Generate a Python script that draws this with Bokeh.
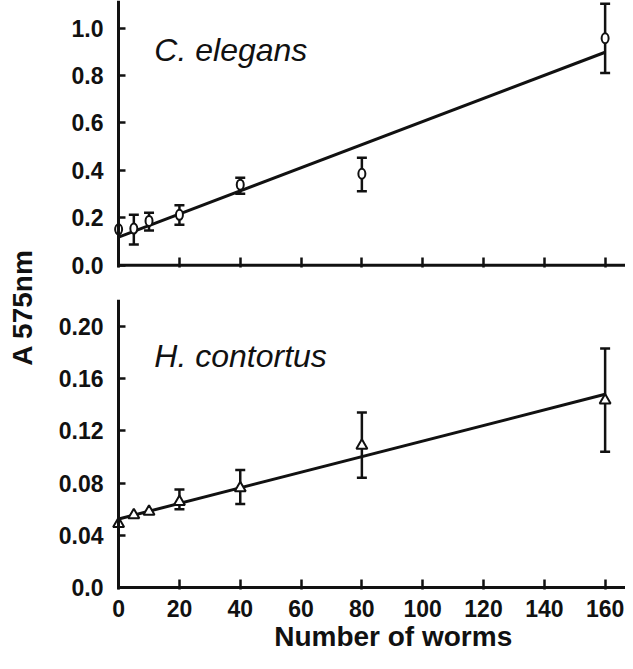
import math
from bokeh.plotting import figure
from bokeh.models import (Range1d, FixedTicker, Whisker, TeeHead, ColumnDataSource,
                          Label, Arrow, LinearAxis)
from bokeh.layouts import row, column
from bokeh.embed import file_html
from bokeh.resources import INLINE
from bokeh.core.properties import value

# ---------------- data ----------------
worms = [0, 5, 10, 20, 40, 80, 160]

ce_mean = [0.152, 0.155, 0.187, 0.213, 0.340, 0.386, 0.957]
ce_lower = [None, 0.088, 0.147, 0.171, 0.302, 0.312, 0.810]
ce_upper = [None, 0.213, 0.222, 0.253, 0.369, 0.453, 1.102]
ce_fit_x = [0, 160]
ce_fit_y = [0.119, 0.898]

hc_mean = [0.0488, 0.0555, 0.0582, 0.0657, 0.0762, 0.1088, 0.1433]
hc_lower = [None, None, None, 0.060, 0.064, 0.084, 0.104]
hc_upper = [None, None, None, 0.075, 0.090, 0.134, 0.183]
hc_fit_x = [0, 160]
hc_fit_y = [0.0525, 0.148]

x_ticks = [0, 20, 40, 60, 80, 100, 120, 140, 160]
ce_ticks = [0.0, 0.2, 0.4, 0.6, 0.8, 1.0]
ce_tick_labels = ["0.0", "0.2", "0.4", "0.6", "0.8", "1.0"]
hc_ticks = [0.0, 0.04, 0.08, 0.12, 0.16, 0.20]
hc_tick_labels = ["0.0", "0.04", "0.08", "0.12", "0.16", "0.20"]

FONT = "Liberation Sans"
INK = "#111111"
X_START, X_END = -3, 166.7
PANEL_W = 585


def make_panel(height, y_start, y_end, mb_bottom, yticks, ylabels, show_xlabels):
    p = figure(width=PANEL_W, height=height, title=None,
               x_range=Range1d(X_START, X_END), y_range=Range1d(y_start, y_end),
               output_backend="svg", toolbar_location=None,
               min_border_left=69, min_border_right=0,
               min_border_top=0, min_border_bottom=mb_bottom)
    p.outline_line_color = None
    p.grid.visible = False
    p.background_fill_color = "white"

    # tick labels on the frame edge
    ya = p.yaxis[0]
    ya.ticker = FixedTicker(ticks=yticks)
    ya.major_label_overrides = dict(zip(yticks, ylabels))
    ya.major_tick_line_color = None
    ya.minor_tick_line_color = None
    ya.axis_line_color = None
    ya.major_tick_out = 0
    ya.major_label_standoff = 6
    ya.major_label_text_font = FONT
    ya.major_label_text_font_style = "bold"
    ya.major_label_text_font_size = "23px"
    ya.major_label_text_color = INK

    # axis line and inward ticks at x = 0
    ya2 = LinearAxis(fixed_location=0, ticker=FixedTicker(ticks=yticks),
                     major_tick_in=7, major_tick_out=0, minor_tick_line_color=None,
                     major_tick_line_width=2.5, major_tick_line_color=INK,
                     axis_line_width=3, axis_line_color=INK,
                     major_label_text_font_size="0px", major_label_standoff=0)
    p.add_layout(ya2, "left")

    xa = p.xaxis[0]
    xa.ticker = FixedTicker(ticks=x_ticks)
    xa.major_tick_in = 10
    xa.major_tick_out = 0
    xa.minor_tick_line_color = None
    xa.major_tick_line_width = 2.5
    xa.major_tick_line_color = INK
    xa.axis_line_color = None
    xa.major_label_text_font = FONT
    xa.major_label_text_font_style = "bold"
    xa.major_label_text_color = INK
    if show_xlabels:
        xa.major_label_text_font_size = "23px"
        xa.major_label_standoff = 10
    else:
        xa.major_label_text_font_size = "0px"
        xa.major_label_standoff = 0

    p.add_layout(Arrow(end=None, x_start=0, y_start=0, x_end=X_END, y_end=0,
                       line_width=3, line_color=INK))
    return p


def add_series(p, means, lower, upper, fit_x, fit_y, marker):
    idx = [i for i in range(len(worms)) if lower[i] is not None]
    esrc = ColumnDataSource(dict(x=[worms[i] for i in idx],
                                 lower=[lower[i] for i in idx],
                                 upper=[upper[i] for i in idx]))
    p.add_layout(Whisker(base="x", lower="lower", upper="upper", source=esrc,
                         dimension="height", line_width=2.5, line_color=INK,
                         upper_head=TeeHead(size=10, line_width=2.5, line_color=INK),
                         lower_head=TeeHead(size=10, line_width=2.5, line_color=INK)))
    p.line(fit_x, fit_y, line_width=3, line_color=INK)
    src = ColumnDataSource(dict(x=worms, y=means))
    if marker == "ellipse":
        p.ellipse(x="x", y="y", width=7, height=10, width_units="screen",
                  height_units="screen", source=src, fill_color="white",
                  line_color=INK, line_width=2)
    else:
        p.scatter(x="x", y="y", marker="triangle", size=11, source=src,
                  fill_color="white", line_color=INK, line_width=2)


top = make_panel(299, -0.009, 1.116, 32, ce_ticks, ce_tick_labels, False)
add_series(top, ce_mean, ce_lower, ce_upper, ce_fit_x, ce_fit_y, "ellipse")
top.add_layout(Label(x=11.75, y=0.909, text="C. elegans", text_font=FONT,
                     text_font_style="italic", text_font_size="32px",
                     text_color=INK, text_baseline="alphabetic"))

bot = make_panel(321, -0.0015, 0.2206, 31, hc_ticks, hc_tick_labels, True)
add_series(bot, hc_mean, hc_lower, hc_upper, hc_fit_x, hc_fit_y, "triangle")
bot.add_layout(Label(x=11.75, y=0.1777, text="H. contortus", text_font=FONT,
                     text_font_style="italic", text_font_size="32px",
                     text_color=INK, text_baseline="alphabetic"))

# x-axis title strip (frame aligned with the panels above)
XL_H = 32
xlab = figure(width=PANEL_W, height=XL_H, title=None, x_range=Range1d(X_START, X_END),
              y_range=Range1d(0, XL_H), output_backend="svg", toolbar_location=None,
              x_axis_type=None, y_axis_type=None, min_border=0)
xlab.outline_line_color = None
xlab.grid.visible = False
xlab.text(x=[90.3], y=[XL_H / 2], text=["Number of worms"], text_font=value(FONT),
          text_font_style="bold", text_font_size="28px", text_color=INK,
          text_align="center", text_baseline="middle")

# y-axis title strip
lab = figure(width=40, height=653, title=None, x_range=Range1d(0, 40),
             y_range=Range1d(0, 653), output_backend="svg", toolbar_location=None,
             x_axis_type=None, y_axis_type=None, min_border=0)
lab.outline_line_color = None
lab.grid.visible = False
lab.text(x=[21.7], y=[346], text=["A 575nm"], angle=math.pi / 2,
         text_font=value(FONT), text_font_style="bold", text_font_size="28px",
         text_color=INK, text_align="center", text_baseline="middle")

layout = row(lab, column(top, bot, xlab, spacing=0), spacing=0)
open("out.html", "w").write(file_html(layout, INLINE))
